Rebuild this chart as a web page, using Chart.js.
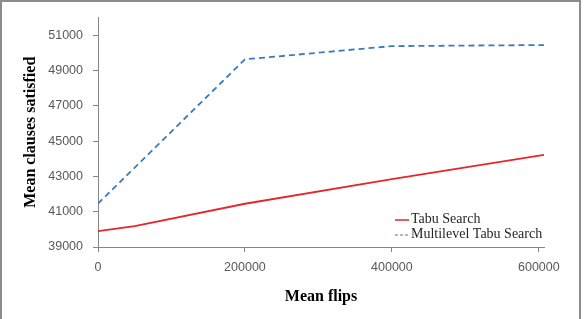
<!DOCTYPE html>
<html>
<head>
  <title>Mean clauses satisfied vs mean flips</title>
  <script src="https://cdn.jsdelivr.net/npm/chart.js"></script>
  <style>
    body { margin: 0; background: #fff; }
    #wrap { position: relative; width: 585px; height: 319px; overflow: hidden; }
    #frame { position: absolute; left: 0; top: 0; width: 581px; height: 340px; border: 2px solid #8c8c8c; box-sizing: border-box; }
    #flipsChart { position: absolute; left: 0; top: 0; }
  </style>
</head>
<body>
  <div id="wrap">
    <div id="frame"></div>
    <canvas id="flipsChart" width="585" height="319"></canvas>
  </div>

  <script>
    // values
    const tabuFlips = [0, 50000, 200000, 400000, 607000];
    const tabuClauses = [39900, 40180, 41450, 42850, 44220];
    const multiFlips = [0, 200000, 400000, 607000];
    const multiClauses = [41460, 49630, 50380, 50440];
    const seriesNames = ['Tabu Search', 'Multilevel Tabu Search'];
    const xTicks = [0, 200000, 400000, 600000];
    const yTicks = [39000, 41000, 43000, 45000, 47000, 49000, 51000];

    const axisGray = '#868686';
    const tickFont = { family: 'Liberation Sans', size: 12.5 };
    const titleFont = { family: 'Liberation Serif', size: 16, weight: 'bold' };
    const plain = v => String(v);

    // legend sits inside the plot, bottom right
    const cornerLegend = {
      id: 'cornerLegend',
      afterDraw(chart) {
        const ctx = chart.ctx;
        const area = chart.chartArea;
        const rows = [area.bottom - 24, area.bottom - 9];
        ctx.save();
        ctx.font = '14px "Liberation Serif"';
        ctx.textBaseline = 'alphabetic';
        ctx.fillStyle = '#262626';
        chart.data.datasets.forEach((ds, i) => {
          const y = rows[i];
          ctx.strokeStyle = ds.borderColor;
          ctx.lineWidth = i === 0 ? 1.5 : 1;
          ctx.setLineDash(i === 0 ? [] : [3, 2]);
          ctx.beginPath();
          ctx.moveTo(area.right - 149, y - 3);
          ctx.lineTo(area.right - 135, y - 3);
          ctx.stroke();
          ctx.fillText(ds.label, area.right - 133, y);
        });
        ctx.restore();
      }
    };

    new Chart(document.getElementById('flipsChart'), {
      type: 'line',
      data: {
        datasets: [
          {
            label: seriesNames[0],
            data: tabuFlips.map((f, i) => ({ x: f, y: tabuClauses[i] })),
            borderColor: '#e5272b',
            borderWidth: 1.8,
            pointRadius: 0,
            fill: false
          },
          {
            label: seriesNames[1],
            data: multiFlips.map((f, i) => ({ x: f, y: multiClauses[i] })),
            borderColor: '#3a7bbf',
            borderWidth: 1.8,
            borderDash: [6, 4],
            pointRadius: 0,
            fill: false
          }
        ]
      },
      options: {
        responsive: false,
        animation: false,
        layout: { padding: { top: 16, right: 41, left: 0, bottom: 0 } },
        plugins: {
          legend: { display: false },
          tooltip: { enabled: false }
        },
        scales: {
          x: {
            type: 'linear',
            min: 0,
            max: 607000,
            afterBuildTicks: s => { s.ticks = xTicks.map(v => ({ value: v })); },
            afterFit: s => { s.height = 72; },
            grid: { display: true, drawOnChartArea: false, drawTicks: true, tickLength: 5, color: axisGray },
            border: { color: axisGray, width: 1 },
            ticks: { font: tickFont, color: '#595959', padding: 8, maxRotation: 0, autoSkip: false, callback: plain },
            title: { display: true, text: 'Mean flips', font: titleFont, color: '#000', padding: { top: 0, bottom: 13 } }
          },
          y: {
            min: 39000,
            max: 52000,
            afterBuildTicks: s => { s.ticks = yTicks.map(v => ({ value: v })); },
            afterFit: s => { s.width = 98; },
            grid: { display: true, drawOnChartArea: false, drawTicks: true, tickLength: 5, color: axisGray },
            border: { color: axisGray, width: 1 },
            ticks: { font: tickFont, color: '#595959', padding: 10, callback: plain },
            title: { display: true, text: 'Mean clauses satisfied', font: titleFont, color: '#000', padding: { top: 21, bottom: 0 } }
          }
        }
      },
      plugins: [cornerLegend]
    });
  </script>
</body>
</html>
